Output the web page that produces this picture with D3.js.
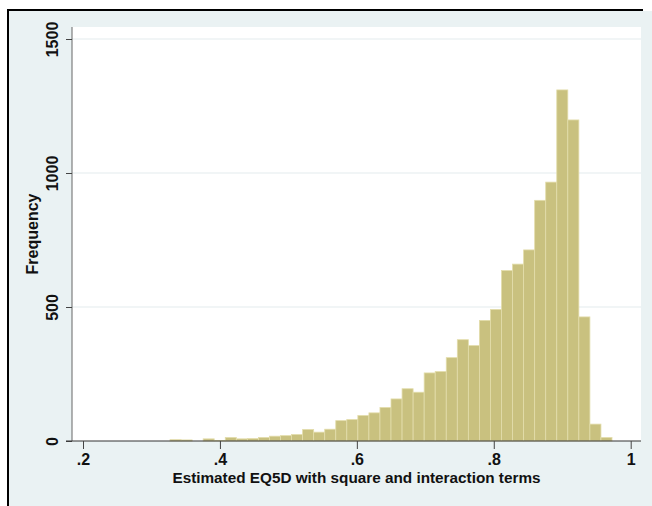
<!DOCTYPE html>
<html>
<head>
<meta charset="utf-8">
<script src="https://cdn.jsdelivr.net/npm/d3@7"></script>
<style>
  html, body { margin: 0; padding: 0; background: #fff; }
  svg { display: block; font-family: "Liberation Sans", Arial, sans-serif; }
</style>
</head>
<body>
<div id="root"></div>
<script>
// histogram: 40 bins
const binStart = 0.3271;
const binWidth = 0.01614;
const counts = [
  5, 4, 0, 8, 2, 13, 8, 9, 13, 18,
  20, 24, 43, 33, 44, 76, 80, 95, 105, 125,
  157, 195, 182, 254, 259, 311, 378, 356, 450, 491,
  636, 660, 713, 898, 966, 1310, 1198, 463, 63, 13
];
const xTicks = [0.2, 0.4, 0.6, 0.8, 1];
const xTickLabels = [".2", ".4", ".6", ".8", "1"];
const yTicks = [0, 500, 1000, 1500];
const xTitle = "Estimated EQ5D with square and interaction terms";
const yTitle = "Frequency";

const width = 652;
const height = 506;
const plot = { left: 72, right: 641, top: 27, bottom: 441 };

const bins = counts.map((n, i) => ({
  x0: binStart + i * binWidth,
  x1: binStart + (i + 1) * binWidth,
  n
}));

const xScale = d3.scaleLinear().domain([0.2, 1]).range([83, 630.7]);
const yScale = d3.scaleLinear().domain([0, 1500]).range([plot.bottom, 39]);

const svg = d3.select("#root").append("svg")
  .attr("width", width)
  .attr("height", height);

// graph region + frame
svg.append("rect").attr("x", 9).attr("y", 11)
  .attr("width", width - 9).attr("height", height - 11)
  .attr("fill", "#eaf2f3");
svg.append("rect").attr("x", 7).attr("y", 9)
  .attr("width", 636).attr("height", 2).attr("fill", "#000");
svg.append("rect").attr("x", 7).attr("y", 9)
  .attr("width", 2).attr("height", height - 9).attr("fill", "#000");

// plot region
svg.append("rect")
  .attr("x", plot.left).attr("y", plot.top)
  .attr("width", plot.right - plot.left)
  .attr("height", plot.bottom - plot.top)
  .attr("fill", "#fff");

// grid
svg.append("g").selectAll("line")
  .data(yTicks.filter(d => d > 0))
  .join("line")
  .attr("x1", plot.left).attr("x2", plot.right)
  .attr("y1", d => yScale(d)).attr("y2", d => yScale(d))
  .attr("stroke", "#e4eced").attr("stroke-width", 1.2);

// bars
svg.append("g").selectAll("rect")
  .data(bins.filter(b => b.n > 0))
  .join("rect")
  .attr("x", d => xScale(d.x0))
  .attr("width", d => xScale(d.x1) - xScale(d.x0))
  .attr("y", d => yScale(d.n))
  .attr("height", d => yScale(0) - yScale(d.n))
  .attr("fill", "#c9c17f")
  .attr("stroke", "#e3ddab")
  .attr("stroke-width", 0.8);

// y axis
const yAxis = d3.axisLeft(yScale).tickValues(yTicks).tickSize(6).tickPadding(0)
  .tickFormat(d3.format("d"));
const gy = svg.append("g").attr("transform", `translate(${plot.left},0)`).call(yAxis);
gy.select(".domain").attr("d", `M0,${plot.top}V${plot.bottom}`).attr("stroke", "#666");
gy.selectAll(".tick line").attr("stroke", "#444");
gy.selectAll(".tick text")
  .attr("x", null).attr("dy", null)
  .attr("transform", "translate(-14,0) rotate(-90)")
  .attr("text-anchor", "middle")
  .attr("dy", "0")
  .attr("font-size", 16).attr("font-weight", "bold").attr("fill", "#111")
  .attr("font-family", "Liberation Sans, Arial, sans-serif");

// x axis
const xAxis = d3.axisBottom(xScale).tickValues(xTicks).tickSize(8).tickPadding(0)
  .tickFormat((d, i) => xTickLabels[i]);
const gx = svg.append("g").attr("transform", `translate(0,${plot.bottom})`).call(xAxis);
gx.select(".domain").attr("d", `M${plot.left - 6},0H${plot.right}`).attr("stroke", "#333");
gx.selectAll(".tick line").attr("stroke", "#444");
gx.selectAll(".tick text")
  .attr("y", 24).attr("dy", null)
  .attr("font-size", 16).attr("font-weight", "bold").attr("fill", "#111")
  .attr("font-family", "Liberation Sans, Arial, sans-serif");

// titles
svg.append("text")
  .attr("x", (plot.left + plot.right) / 2).attr("y", 483)
  .attr("text-anchor", "middle")
  .attr("font-size", 15.3).attr("font-weight", "bold").attr("fill", "#111")
  .text(xTitle);

svg.append("text")
  .attr("transform", `translate(38,${(plot.top + plot.bottom) / 2}) rotate(-90)`)
  .attr("text-anchor", "middle")
  .attr("font-size", 16).attr("font-weight", "bold").attr("fill", "#111")
  .text(yTitle);
</script>
</body>
</html>
